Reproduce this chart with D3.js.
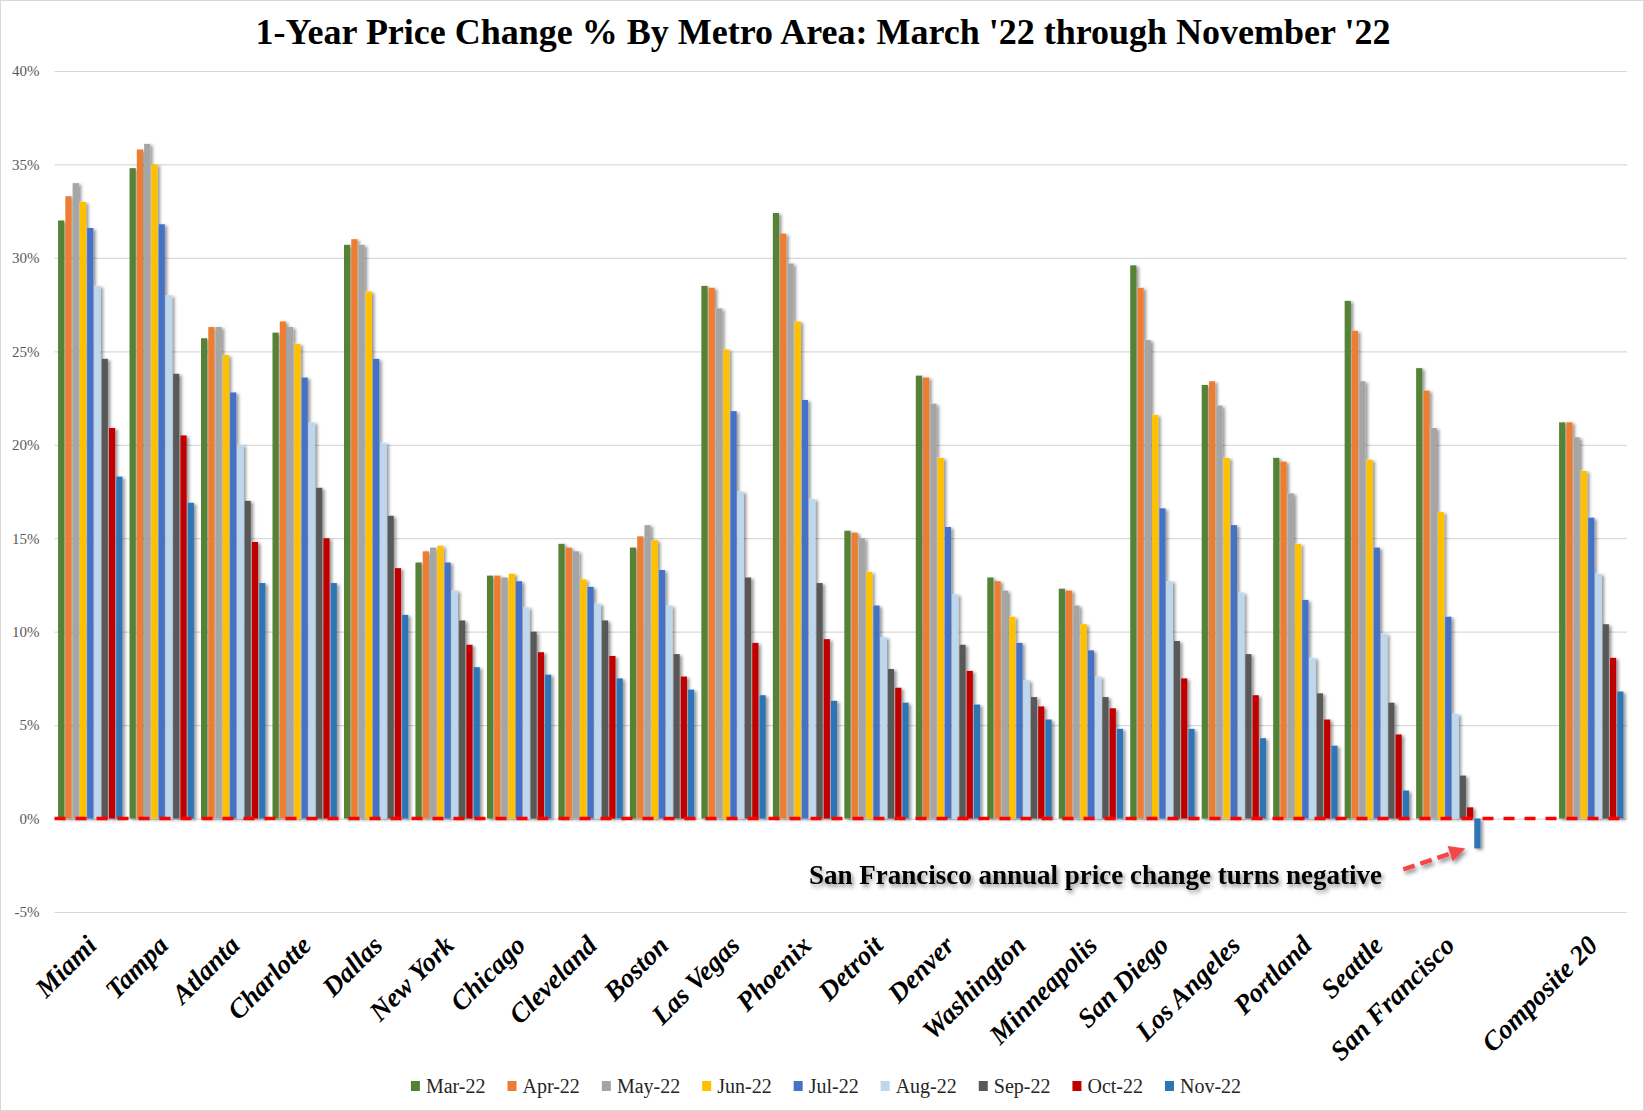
<!DOCTYPE html>
<html>
<head>
  <meta charset="UTF-8">
  <title>1-Year Price Change % By Metro Area</title>
  <script src="https://cdn.jsdelivr.net/npm/d3@7/dist/d3.min.js"></script>
  <style>
    body { margin: 0; background: #fff; font-family: "Liberation Serif", serif; }
  </style>
</head>
<body>
  <div id="chart"></div>
  <script>
    // metro areas, in chart order (a blank slot sits before the composite)
    var cities = ["Miami", "Tampa", "Atlanta", "Charlotte", "Dallas", "New York", "Chicago",
      "Cleveland", "Boston", "Las Vegas", "Phoenix", "Detroit", "Denver", "Washington",
      "Minneapolis", "San Diego", "Los Angeles", "Portland", "Seattle", "San Francisco", "Composite 20"];

    var months = ["Mar-22", "Apr-22", "May-22", "Jun-22", "Jul-22", "Aug-22", "Sep-22", "Oct-22", "Nov-22"];
    var colors = ["#548235", "#ED7D31", "#A5A5A5", "#FFC000", "#4472C4", "#BDD7EE", "#595959", "#C00000", "#2E75B6"];

    // 1-year price change %, one array per month, same order as cities
    var mar22 = [32.0, 34.8, 25.7, 26.0, 30.7, 13.7, 13.0, 14.7, 14.5, 28.5, 32.4, 15.4, 23.7, 12.9, 12.3, 29.6, 23.2, 19.3, 27.7, 24.1, 21.2];
    var apr22 = [33.3, 35.8, 26.3, 26.6, 31.0, 14.3, 13.0, 14.5, 15.1, 28.4, 31.3, 15.3, 23.6, 12.7, 12.2, 28.4, 23.4, 19.1, 26.1, 22.9, 21.2];
    var may22 = [34.0, 36.1, 26.3, 26.3, 30.7, 14.5, 12.9, 14.3, 15.7, 27.3, 29.7, 15.0, 22.2, 12.2, 11.4, 25.6, 22.1, 17.4, 23.4, 20.9, 20.4];
    var jun22 = [33.0, 35.0, 24.8, 25.4, 28.2, 14.6, 13.1, 12.8, 14.9, 25.1, 26.6, 13.2, 19.3, 10.8, 10.4, 21.6, 19.3, 14.7, 19.2, 16.4, 18.6];
    var jul22 = [31.6, 31.8, 22.8, 23.6, 24.6, 13.7, 12.7, 12.4, 13.3, 21.8, 22.4, 11.4, 15.6, 9.4, 9.0, 16.6, 15.7, 11.7, 14.5, 10.8, 16.1];
    var aug22 = [28.5, 28.0, 20.0, 21.2, 20.1, 12.2, 11.3, 11.5, 11.4, 17.5, 17.1, 9.7, 12.0, 7.4, 7.6, 12.7, 12.1, 8.6, 9.9, 5.6, 13.1];
    var sep22 = [24.6, 23.8, 17.0, 17.7, 16.2, 10.6, 10.0, 10.6, 8.8, 12.9, 12.6, 8.0, 9.3, 6.5, 6.5, 9.5, 8.8, 6.7, 6.2, 2.3, 10.4];
    var oct22 = [20.9, 20.5, 14.8, 15.0, 13.4, 9.3, 8.9, 8.7, 7.6, 9.4, 9.6, 7.0, 7.9, 6.0, 5.9, 7.5, 6.6, 5.3, 4.5, 0.6, 8.6];
    var nov22 = [18.3, 16.9, 12.6, 12.6, 10.9, 8.1, 7.7, 7.5, 6.9, 6.6, 6.3, 6.2, 6.1, 5.3, 4.8, 4.8, 4.3, 3.9, 1.5, -1.6, 6.8];

    var yTicks = [-5, 0, 5, 10, 15, 20, 25, 30, 35, 40];

    var series = [mar22, apr22, may22, jun22, jul22, aug22, sep22, oct22, nov22];

    var width = 1644, height = 1111;
    var plotLeft = 54.5, plotRight = 1627, plotTop = 71, plotBottom = 912;

    var slots = cities.slice(0, 20).concat([""], cities.slice(20));

    var svg = d3.select('#chart')
      .append('svg')
      .attr('width', width)
      .attr('height', height);

    var defs = svg.append('defs');
    defs.append('filter').attr('id', 'barShadow')
      .attr('x', '-50%').attr('y', '-10%').attr('width', '200%').attr('height', '130%')
      .append('feDropShadow')
      .attr('dx', 2.5).attr('dy', 1.5).attr('stdDeviation', 1.4)
      .attr('flood-color', '#000').attr('flood-opacity', 0.4);
    defs.append('filter').attr('id', 'textShadow')
      .attr('x', '-10%').attr('y', '-40%').attr('width', '120%').attr('height', '200%')
      .append('feDropShadow')
      .attr('dx', 2).attr('dy', 3).attr('stdDeviation', 2)
      .attr('flood-color', '#000').attr('flood-opacity', 0.45);

    svg.append('rect')
      .attr('x', 0.5).attr('y', 0.5)
      .attr('width', width - 1).attr('height', height - 1)
      .attr('fill', '#fff').attr('stroke', '#d9d9d9');

    var x = d3.scaleBand().domain(slots).range([plotLeft, plotRight]).paddingInner(0.1).paddingOuter(0.05);
    var xm = d3.scaleBand().domain(months).range([0, x.bandwidth()]).paddingInner(0.15);
    var y = d3.scaleLinear().domain([-5, 40]).range([plotBottom, plotTop]);

    // title
    svg.append('text')
      .attr('x', 823).attr('y', 44)
      .attr('text-anchor', 'middle')
      .style('font-family', '"Liberation Serif", serif')
      .style('font-weight', 'bold')
      .style('font-size', '36px')
      .text("1-Year Price Change % By Metro Area: March '22 through November '22");

    // gridlines + y labels
    var yAxis = svg.append('g')
      .attr('transform', 'translate(' + plotLeft + ',0)')
      .call(d3.axisLeft(y).tickValues(yTicks).tickSize(-(plotRight - plotLeft)).tickFormat(d => d + '%'));
    yAxis.select('.domain').remove();
    yAxis.selectAll('.tick line').attr('stroke', '#d9d9d9').attr('stroke-width', 1.2);
    yAxis.selectAll('.tick text')
      .attr('x', -15)
      .attr('fill', '#595959')
      .style('font-family', '"Liberation Serif", serif')
      .style('font-size', '15px');

    // bars
    var rows = cities.map((c, i) => ({ city: c, values: series.map((s, j) => ({ month: months[j], value: s[i] })) }));

    var barsG = svg.append('g').attr('filter', 'url(#barShadow)');
    var groups = barsG.selectAll('g.city')
      .data(rows)
      .enter()
      .append('g')
      .attr('class', 'city')
      .attr('transform', d => 'translate(' + x(d.city) + ',0)');

    groups.selectAll('rect')
      .data(d => d.values)
      .enter()
      .append('rect')
      .attr('x', d => xm(d.month))
      .attr('width', xm.bandwidth())
      .attr('y', d => y(Math.max(0, d.value)))
      .attr('height', d => Math.abs(y(d.value) - y(0)))
      .attr('fill', (d, i) => colors[i]);

    // red dashed zero line
    svg.append('line')
      .attr('x1', plotLeft).attr('x2', plotRight)
      .attr('y1', y(0)).attr('y2', y(0))
      .attr('stroke', '#FF0000')
      .attr('stroke-width', 3.5)
      .attr('stroke-dasharray', '11,10');

    // category labels
    var xAxis = svg.append('g')
      .attr('transform', 'translate(0,947)')
      .call(d3.axisBottom(x).tickSize(0));
    xAxis.select('.domain').remove();
    xAxis.selectAll('.tick text')
      .attr('x', 0).attr('y', 0).attr('dy', 0)
      .attr('transform', 'translate(8,0) rotate(-45)')
      .attr('text-anchor', 'end')
      .attr('fill', '#000')
      .style('font-family', '"Liberation Serif", serif')
      .style('font-weight', 'bold')
      .style('font-style', 'italic')
      .style('font-size', '27px');

    // annotation for San Francisco
    var sfIdx = cities.indexOf("San Francisco");
    var tipX = x("San Francisco") + xm("Nov-22") - 9;
    var tipY = y(nov22[sfIdx]);
    var note = svg.append('g').attr('filter', 'url(#textShadow)');
    note.append('text')
      .attr('x', 1382).attr('y', 884)
      .attr('text-anchor', 'end')
      .style('font-family', '"Liberation Serif", serif')
      .style('font-weight', 'bold')
      .style('font-size', '27px')
      .text('San Francisco annual price change turns negative');

    var ax = tipX - 62, ay = tipY + 21;
    var ang = Math.atan2(tipY - ay, tipX - ax);
    var headLen = 16, headW = 8;
    var bx = tipX - headLen * Math.cos(ang), by = tipY - headLen * Math.sin(ang);
    note.append('line')
      .attr('x1', ax).attr('y1', ay).attr('x2', bx).attr('y2', by)
      .attr('stroke', '#F4474A').attr('stroke-width', 4.5)
      .attr('stroke-dasharray', '12,6');
    note.append('path')
      .attr('d', 'M' + tipX + ',' + tipY +
        'L' + (bx - headW * Math.sin(ang)) + ',' + (by + headW * Math.cos(ang)) +
        'L' + (bx + headW * Math.sin(ang)) + ',' + (by - headW * Math.cos(ang)) + 'Z')
      .attr('fill', '#F4474A');

    // legend
    var legend = svg.append('g');
    var lx = 0, legendGap = 22;
    months.forEach(function (m, i) {
      var item = legend.append('g').attr('transform', 'translate(' + lx + ',0)');
      item.append('rect')
        .attr('x', 0).attr('y', -5).attr('width', 9).attr('height', 10)
        .attr('fill', colors[i]);
      var t = item.append('text')
        .attr('x', 15).attr('y', 0).attr('dy', '0.35em')
        .attr('fill', '#262626')
        .style('font-family', '"Liberation Serif", serif')
        .style('font-size', '20px')
        .text(m);
      lx += 15 + t.node().getComputedTextLength() + legendGap;
    });
    legend.attr('transform', 'translate(' + (826 - (lx - legendGap) / 2) + ',1086)');
  </script>
</body>
</html>
